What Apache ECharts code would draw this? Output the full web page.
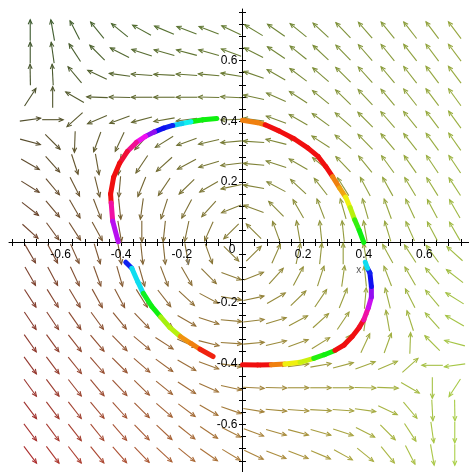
<!DOCTYPE html>
<html><head><meta charset="utf-8">
<script src="https://cdn.jsdelivr.net/npm/echarts@6/dist/echarts.min.js"></script>
<style>html,body{margin:0;padding:0;background:#fff}#c{width:469px;height:472px}</style>
</head><body><div id="c"></div>
<script>
// ---- vector field grid (20 x 20) ----
const gridX = [-0.700,-0.626,-0.553,-0.479,-0.405,-0.332,-0.258,-0.184,-0.111,-0.037,0.037,0.111,0.184,0.258,0.332,0.405,0.479,0.553,0.626,0.700];
const gridY = [0.700,0.626,0.553,0.479,0.405,0.332,0.258,0.184,0.111,0.037,-0.037,-0.111,-0.184,-0.258,-0.332,-0.405,-0.479,-0.553,-0.626,-0.700];
// arrow directions in degrees (counter-clockwise from +x), rows top to bottom
const fieldAngles = [
 [90,100,117,129,141,151,157,159,159,155,149,145,141,137,134,131,129,128,127,127],
 [90,98,123,135,153,162,164,165,164,160,153,146,141,137,134,131,129,128,127,127],
 [91,93,130,155,172,176,177,176,175,171,161,150,143,139,135,132,130,128,127,127],
 [57,90,150,178,179,180,180,180,179,177,168,156,147,141,136,133,130,128,127,126],
 [8,0,222,203,200,195,190,187,185,182,172,160,150,144,139,135,131,129,127,126],
 [345,315,268,250,245,228,212,200,193,185,176,166,156,147,140,134,130,128,126,125],
 [330,312,288,280,262,236,222,208,197,187,175,162,150,141,134,129,126,125,124,124],
 [328,310,297,284,265,248,236,224,210,192,170,152,137,128,122,118,119,121,122,123],
 [322,310,300,291,276,262,252,242,228,202,160,135,120,111,106,106,110,115,118,120],
 [318,306,303,299,280,270,264,258,246,225,135,110,100,96,96,100,107,114,118,120],
 [300,298,294,287,280,276,276,280,290,315,45,66,78,84,90,100,119,123,126,138],
 [300,298,295,290,286,286,291,300,315,340,22,48,62,72,82,96,111,120,130,142],
 [303,302,301,299,298,302,308,317,332,350,12,30,44,56,68,85,104,117,130,148],
 [304,304,305,306,309,314,321,330,342,355,7,17,28,42,56,82,100,108,132,150],
 [305,306,308,310,314,320,327,336,346,356,5,13,20,32,48,65,70,88,135,165],
 [306,307,309,311,315,319,324,330,340,352,2,5,7,10,15,20,23,42,180,188],
 [306,307,308,310,313,316,321,327,336,348,357,359,0,0,0,359,358,330,270,237],
 [307,307,308,310,312,315,319,323,330,341,351,355,356,357,356,352,335,310,273,271],
 [307,307,308,309,311,314,317,321,326,333,340,344,345,344,342,333,315,303,278,270],
 [307,307,308,309,311,314,317,321,325,329,335,339,339,337,331,321,309,297,280,270]
];

// ---- closed curve, four coloured pieces (x, y, hue of the piece starting at that point) ----
const tlX = [-0.085,-0.13,-0.17,-0.20,-0.23,-0.26,-0.29,-0.32,-0.35,-0.38,-0.405,-0.425,-0.435,-0.433,-0.428,-0.41];
const tlY = [0.409,0.405,0.398,0.392,0.386,0.377,0.365,0.350,0.330,0.300,0.262,0.215,0.160,0.130,0.070,0.003];
const tlHue = [120,120,180,190,235,240,275,300,325,350,0,0,0,320,285,285];

const trX = [0.0,0.05,0.075,0.12,0.17,0.215,0.25,0.275,0.297,0.32,0.34,0.355,0.37,0.385,0.40];
const trY = [0.403,0.395,0.388,0.368,0.342,0.312,0.283,0.25,0.217,0.18,0.15,0.115,0.075,0.04,0.0];
const trHue = [30,30,0,0,0,0,0,0,30,40,60,75,110,120,120];

const blX = [-0.385,-0.365,-0.345,-0.327,-0.30,-0.27,-0.24,-0.205,-0.17,-0.14,-0.097];
const blY = [-0.065,-0.085,-0.13,-0.168,-0.21,-0.245,-0.28,-0.31,-0.333,-0.352,-0.376];
const blHue = [235,185,185,125,120,80,75,35,30,5,5];

const brX = [0.0,0.05,0.095,0.14,0.19,0.235,0.27,0.305,0.335,0.362,0.385,0.40,0.415,0.425,0.425,0.42,0.412,0.405];
const brY = [-0.403,-0.404,-0.403,-0.401,-0.395,-0.382,-0.37,-0.356,-0.338,-0.31,-0.28,-0.255,-0.215,-0.18,-0.145,-0.10,-0.085,-0.065];
const brHue = [0,0,30,60,70,115,120,0,0,0,355,320,290,275,240,235,185,185];

// ---- axes ----
const tickValues = [-0.76,-0.72,-0.68,-0.64,-0.6,-0.56,-0.52,-0.48,-0.44,-0.4,-0.36,-0.32,-0.28,-0.24,-0.2,-0.16,-0.12,-0.08,-0.04,0,0.04,0.08,0.12,0.16,0.2,0.24,0.28,0.32,0.36,0.4,0.44,0.48,0.52,0.56,0.6,0.64,0.68,0.72,0.76];
const xLabelValues = [-0.6,-0.4,-0.2,0.2,0.4,0.6];
const yLabelValues = [-0.6,-0.4,-0.2,0,0.2,0.4,0.6];

// ---- build series data ----
const arrowData = [];
for (let r = 0; r < gridY.length; r++) {
  for (let c = 0; c < gridX.length; c++) {
    arrowData.push([gridX[c], gridY[r], fieldAngles[r][c]]);
  }
}
const segData = [];
[[tlX, tlY, tlHue], [trX, trY, trHue], [blX, blY, blHue], [brX, brY, brHue]].forEach(function (p) {
  for (let k = 0; k < p[0].length - 1; k++) {
    segData.push([p[0][k], p[1][k], p[0][k + 1], p[1][k + 1], p[2][k]]);
  }
});

const cTL = [58, 88, 44], cTR = [150, 166, 62], cBL = [172, 46, 46], cBR = [170, 208, 72];
function fieldColor(x, y) {
  const u = Math.min(1, Math.max(0, (x + 0.7) / 1.4));
  const v = Math.min(1, Math.max(0, (y + 0.7) / 1.4));
  const out = [];
  for (let k = 0; k < 3; k++) {
    out.push(Math.round((1 - u) * (1 - v) * cBL[k] + u * (1 - v) * cBR[k] + (1 - u) * v * cTL[k] + u * v * cTR[k]));
  }
  return 'rgb(' + out.join(',') + ')';
}

function arrowItem(params, api) {
  const x = api.value(0), y = api.value(1), ang = api.value(2) * Math.PI / 180;
  const p = api.coord([x, y]);
  const L = 21, h = 5, spread = 0.42;
  const ux = Math.cos(ang), uy = -Math.sin(ang);
  const tail = [p[0] - ux * L / 2, p[1] - uy * L / 2];
  const head = [p[0] + ux * L / 2, p[1] + uy * L / 2];
  const back = ang + Math.PI;
  const b1 = [head[0] + Math.cos(back + spread) * h, head[1] - Math.sin(back + spread) * h];
  const b2 = [head[0] + Math.cos(back - spread) * h, head[1] - Math.sin(back - spread) * h];
  const color = fieldColor(x, y);
  return {
    type: 'group',
    children: [
      { type: 'line', shape: { x1: tail[0], y1: tail[1], x2: head[0], y2: head[1] }, style: { stroke: color, lineWidth: 1.1 } },
      { type: 'polyline', shape: { points: [b1, head, b2] }, style: { stroke: color, fill: null, lineWidth: 1.1 } }
    ]
  };
}

function segItem(params, api) {
  const a = api.coord([api.value(0), api.value(1)]);
  const b = api.coord([api.value(2), api.value(3)]);
  const hue = api.value(4);
  return {
    type: 'line',
    shape: { x1: a[0], y1: a[1], x2: b[0], y2: b[1] },
    style: { stroke: 'hsl(' + hue + ',88%,50%)', lineWidth: 5, lineCap: 'round' }
  };
}

function fmt(v) { return String(Math.round(v * 10) / 10); }
const FONT = '12px "Liberation Sans", Arial, sans-serif';

function axisDef(pos, isMain) {
  return {
    type: 'value', min: -0.77, max: 0.77, position: pos,
    axisLine: { show: isMain, onZero: true, onZeroAxisIndex: 0, lineStyle: { color: '#000', width: 1 } },
    axisTick: { customValues: tickValues, length: 3.5, lineStyle: { color: '#000' } },
    axisLabel: { show: false },
    splitLine: { show: false }
  };
}

const chart = echarts.init(document.getElementById('c'), null, { renderer: 'canvas' });
chart.setOption({
  animation: false,
  backgroundColor: '#fff',
  grid: { left: 9, top: 9, width: 467, height: 467, containLabel: false, outerBoundsMode: 'none' },
  xAxis: [axisDef('bottom', true), axisDef('top', false)],
  yAxis: [axisDef('left', true), axisDef('right', false)],
  series: [
    { type: 'custom', xAxisIndex: 0, yAxisIndex: 0, renderItem: arrowItem, data: arrowData, silent: true, z: 2 },
    { type: 'custom', xAxisIndex: 0, yAxisIndex: 0, renderItem: segItem, data: segData, silent: true, z: 3 }
  ]
});

// tick labels placed through the chart's own scales, next to the axes crossing at the origin
const labels = [];
xLabelValues.forEach(function (v) {
  const p = chart.convertToPixel({ gridIndex: 0 }, [v, 0]);
  labels.push({ type: 'text', x: p[0], y: p[1] + 6, z: 10, silent: true,
    style: { text: fmt(v), font: FONT, fill: '#000', align: 'center', verticalAlign: 'top' } });
});
yLabelValues.forEach(function (v) {
  const p = chart.convertToPixel({ gridIndex: 0 }, [0, v]);
  const zero = Math.abs(v) < 1e-9;
  labels.push({ type: 'text', x: p[0] - (zero ? 7 : 5), y: p[1] + (zero ? 7 : 0), z: 10, silent: true,
    style: { text: fmt(v), font: FONT, fill: '#000', align: 'right', verticalAlign: 'middle' } });
});
const px = chart.convertToPixel({ gridIndex: 0 }, [0.383, -0.092]);
labels.push({ type: 'text', x: px[0], y: px[1], z: 10, silent: true,
  style: { text: 'x', font: '10px "Liberation Sans", Arial, sans-serif', fill: '#555', align: 'center', verticalAlign: 'middle' } });
const py = chart.convertToPixel({ gridIndex: 0 }, [-0.18, -0.06]);
labels.push({ type: 'text', x: py[0], y: py[1], z: 10, silent: true,
  style: { text: 'y', font: '8px "Liberation Sans", Arial, sans-serif', fill: '#777', align: 'center', verticalAlign: 'middle' } });
chart.setOption({ graphic: labels });
</script>
</body></html>
